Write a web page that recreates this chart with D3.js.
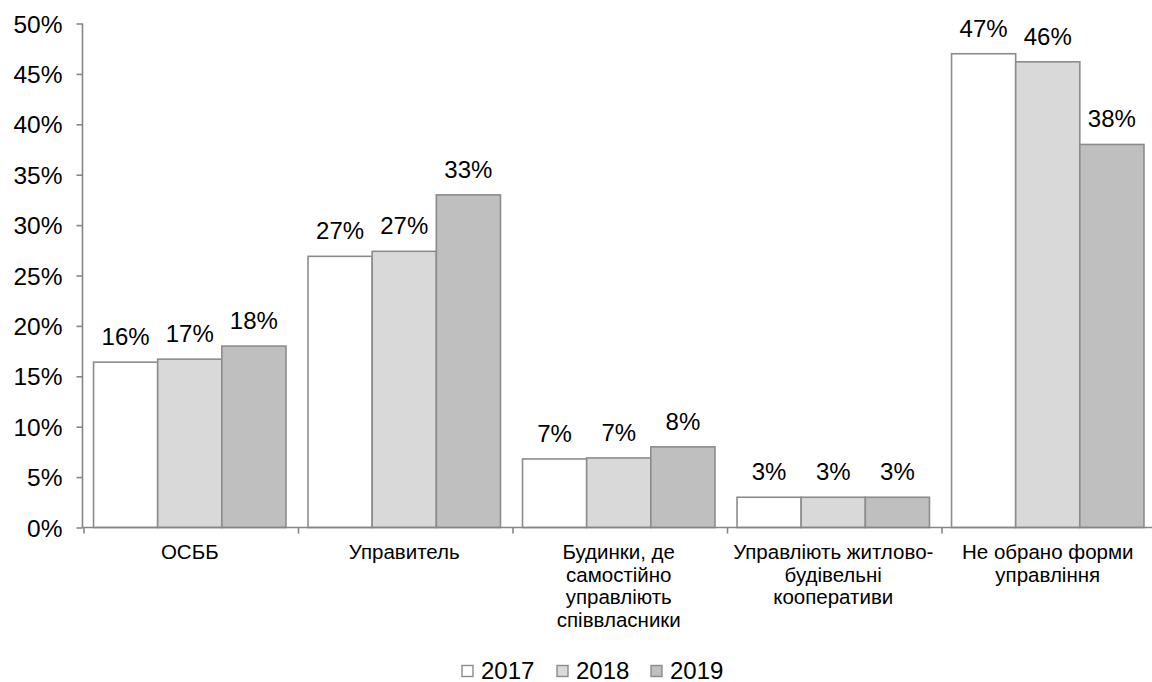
<!DOCTYPE html>
<html>
<head>
<meta charset="utf-8">
<script src="https://cdn.jsdelivr.net/npm/d3@7"></script>
<style>
  html, body { margin: 0; padding: 0; background: #fff; }
  svg { display: block; font-family: "Liberation Sans", Arial, sans-serif; }
</style>
</head>
<body>
<svg id="chart" width="1152" height="682"></svg>
<script>
// Management forms of apartment buildings, share by year (%)
const categories = [
  ["ОСББ"],
  ["Управитель"],
  ["Будинки, де", "самостійно", "управліють", "співвласники"],
  ["Управліють житлово-", "будівельні", "кооперативи"],
  ["Не обрано форми", "управління"]
];
const years = ["2017", "2018", "2019"];
const values2017 = [16.4, 26.9, 6.8, 3.0, 47.0];
const values2018 = [16.7, 27.4, 6.9, 3.0, 46.2];
const values2019 = [18.0, 33.0, 8.0, 3.0, 38.0];
const yTicks = [0, 5, 10, 15, 20, 25, 30, 35, 40, 45, 50];
const fills = ["#ffffff", "#d9d9d9", "#bfbfbf"];

const series = [values2017, values2018, values2019];
const catKeys = categories.map((c, i) => i);

const svg = d3.select("#chart");
const m = { left: 82.5, right: 1155, top: 23.5, bottom: 527.5 };

const x0 = d3.scaleBand().domain(catKeys).range([m.left, m.right]).padding(0);
const x1 = d3.scaleBand().domain(years).range([0, x0.bandwidth()])
  .paddingInner(0).paddingOuter(0.172);
const y = d3.scaleLinear().domain([0, 50]).range([m.bottom, m.top]);

const axisColor = "#868686";

// bars
const groups = svg.append("g").selectAll("g")
  .data(catKeys).join("g")
  .attr("transform", d => `translate(${x0(d)},0)`);

groups.selectAll("rect")
  .data(ci => years.map((yr, si) => ({ yr, si, v: series[si][ci] })))
  .join("rect")
  .attr("x", d => x1(d.yr))
  .attr("y", d => y(d.v))
  .attr("width", x1.bandwidth())
  .attr("height", d => y(0) - y(d.v))
  .attr("fill", d => fills[d.si])
  .attr("stroke", "#8c8c8c")
  .attr("stroke-width", 1.6);

// value labels
groups.selectAll("text")
  .data(ci => years.map((yr, si) => ({ yr, si, v: series[si][ci] })))
  .join("text")
  .attr("x", d => x1(d.yr) + x1.bandwidth() / 2)
  .attr("y", d => y(d.v) - 17)
  .attr("text-anchor", "middle")
  .attr("font-size", 24)
  .attr("fill", "#000")
  .text(d => Math.round(d.v) + "%");

// y axis
const yAxis = d3.axisLeft(y).tickValues(yTicks).tickSize(6).tickPadding(14)
  .tickFormat(d => d + "%");
const gy = svg.append("g").attr("transform", `translate(${m.left},0)`).call(yAxis);
gy.select(".domain").attr("stroke", axisColor).attr("stroke-width", 1.6)
  .attr("d", `M0,${m.top}V${m.bottom}`);
gy.selectAll(".tick line").attr("stroke", axisColor).attr("stroke-width", 1.6);
gy.selectAll(".tick text").attr("font-size", 24.5).attr("fill", "#000")
  .attr("font-family", "Liberation Sans, Arial, sans-serif")
  .attr("dy", "0.35em");

// x axis line and category boundary ticks
const boundaries = catKeys.map(k => x0(k)).concat([m.right]);
const gx = svg.append("g");
gx.append("line")
  .attr("x1", m.left).attr("x2", m.right)
  .attr("y1", m.bottom).attr("y2", m.bottom)
  .attr("stroke", axisColor).attr("stroke-width", 1.6);
gx.selectAll("line.b").data(boundaries).join("line")
  .attr("class", "b")
  .attr("x1", d => d + 1.5).attr("x2", d => d + 1.5)
  .attr("y1", m.bottom).attr("y2", m.bottom + 6)
  .attr("stroke", axisColor).attr("stroke-width", 1.6);

// category labels
const catText = svg.append("g").selectAll("text")
  .data(catKeys).join("text")
  .attr("x", d => x0(d) + x0.bandwidth() / 2)
  .attr("y", 559)
  .attr("text-anchor", "middle")
  .attr("font-size", 20.5)
  .attr("fill", "#000");
catText.selectAll("tspan")
  .data(d => categories[d].map((line, i) => ({ line, i, d })))
  .join("tspan")
  .attr("x", t => x0(t.d) + x0.bandwidth() / 2)
  .attr("dy", t => t.i === 0 ? 0 : 22.6)
  .text(t => t.line);

// legend
const legendX = [462, 557, 651];
const lg = svg.append("g").selectAll("g").data(years).join("g")
  .attr("transform", (d, i) => `translate(${legendX[i]},0)`);
lg.append("rect")
  .attr("x", 0).attr("y", 665.5)
  .attr("width", 11).attr("height", 11)
  .attr("fill", (d, i) => fills[i])
  .attr("stroke", "#8c8c8c").attr("stroke-width", 1.4);
lg.append("text")
  .attr("x", 19).attr("y", 678.5)
  .attr("font-size", 24).attr("fill", "#000")
  .text(d => d);
</script>
</body>
</html>
